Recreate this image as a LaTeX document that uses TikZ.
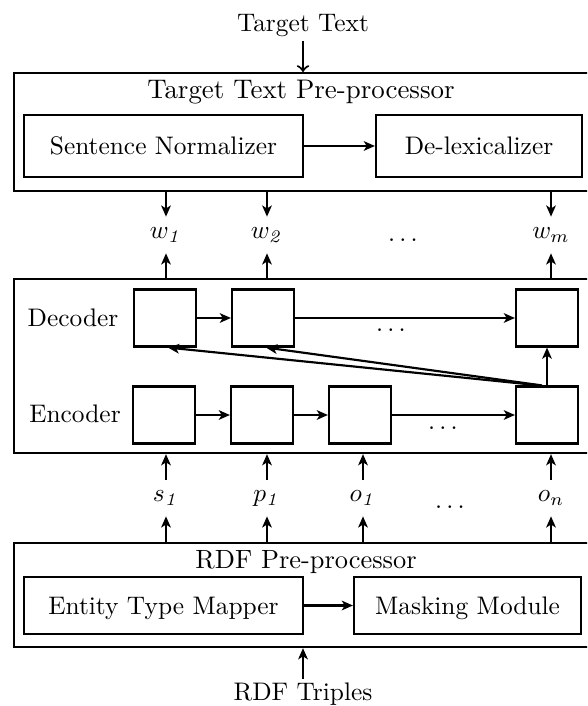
\documentclass[tikz,border=0pt]{standalone}
\usepackage{amsmath}
\usetikzlibrary{arrows.meta}
\newcommand{\pxu}{0.394pt}

\begin{document}
\begin{tikzpicture}[x=\pxu, y=-\pxu, line width=0.85pt,
  >={Stealth[length=4.4pt,width=3.8pt,inset=1.2pt]},
  outerbox/.style={draw, anchor=north west, inner sep=0pt, minimum width=600*\pxu},
  modbox/.style={draw, inner sep=0pt, text height=7pt, text depth=0pt},
  cell/.style={draw, inner sep=0pt, minimum width=62*\pxu, minimum height=57*\pxu},
  sym/.style={inner xsep=1pt, inner ysep=2.8pt, text height=5.5pt, text depth=2.5pt},
  lbl/.style={anchor=base, inner sep=1pt}]

\useasboundingbox (0,0) rectangle (587,706);
\clip (0,0) rectangle (587,706);

%% outer boxes
\node[outerbox, minimum height=118*\pxu] (ttp)  at (13,72)  {};
\node[outerbox, minimum height=174*\pxu] (mid)  at (13,278) {};
\node[outerbox, minimum height=104*\pxu] (rdfp) at (13,542) {};

%% texts
\node[lbl] (tgt)    at (303,32)  {Target Text};
\node[lbl] (ttptl)  at (301,99)  {\fontsize{10.6}{12}\selectfont Target Text Pre-processor};
\node[lbl] (dectl)  at (73,326)  {Decoder};
\node[lbl] (enctl)  at (75,422)  {Encoder};
\node[lbl] (rdfptl) at (306,568) {\fontsize{10.4}{12}\selectfont RDF Pre-processor};
\node[lbl] (trip)   at (303,700) {RDF Triples};

%% modules
\node[modbox, minimum width=279*\pxu, minimum height=62*\pxu] (sn) at (163.5,146) {Sentence Normalizer};
\node[modbox, minimum width=206*\pxu, minimum height=62*\pxu] (dl) at (479,146)   {De-lexicalizer};
\node[modbox, minimum width=279*\pxu, minimum height=57*\pxu] (et) at (163.5,605.5) {Entity Type Mapper};
\node[modbox, minimum width=227*\pxu, minimum height=57*\pxu] (mm) at (467.5,605.5) {Masking Module};

%% decoder / encoder cells
\node[cell] (d1) at (165,318) {};
\node[cell] (d2) at (263,318) {};
\node[cell] (d4) at (547,318) {};
\node[cell] (e1) at (164,415) {};
\node[cell] (e2) at (262,415) {};
\node[cell] (e3) at (360,415) {};
\node[cell] (e4) at (547,415) {};

%% symbols
\node[sym] (w1) at (166,235) {$w_{\mathit{1}}$};
\node[sym] (w2) at (267,235) {$w_{\mathit{2}}$};
\node[sym] (wm) at (551,235) {$w_{m}$};
\node[sym] (s1) at (166,498) {$s_{\mathit{1}}$};
\node[sym] (p1) at (267,498) {$p_{\mathit{1}}$};
\node[sym] (o1) at (363,498) {$o_{\mathit{1}}$};
\node[sym] (on) at (551,498) {$o_{n}$};

%% dots
\node[lbl] (wdots) at (405,241.5) {$\dots$};
\node[lbl] (ddots) at (393,331.5) {$\dots$};
\node[lbl] (edots) at (445,429.5) {$\dots$};
\node[lbl] (tdots) at (452,508.5) {$\dots$};

%% edges
\draw[-to] (tgt) -- (ttp.north -| tgt);
\draw[->] (sn) -- (dl);
\draw[->] (et) -- (mm);
\draw[->] (trip) -- (rdfp.south -| trip);

\draw[->] (ttp.south -| w1) -- (w1);
\draw[->] (ttp.south -| w2) -- (w2);
\draw[->] (ttp.south -| wm) -- (wm);
\draw[->] (mid.north -| w1) -- (w1);
\draw[->] (mid.north -| w2) -- (w2);
\draw[->] (mid.north -| wm) -- (wm);

\draw[->] (s1) -- (mid.south -| s1);
\draw[->] (p1) -- (mid.south -| p1);
\draw[->] (o1) -- (mid.south -| o1);
\draw[->] (on) -- (mid.south -| on);
\draw[->] (rdfp.north -| s1) -- (s1);
\draw[->] (rdfp.north -| p1) -- (p1);
\draw[->] (rdfp.north -| o1) -- (o1);
\draw[->] (rdfp.north -| on) -- (on);

\draw[->] (d1) -- (d2);
\draw[->] (d2) -- (d4);
\draw[->] (e1) -- (e2);
\draw[->] (e2) -- (e3);
\draw[->] (e3) -- (e4);
\draw[->] (e4) -- (d4);
\draw[->] ([xshift=-7*\pxu]e4.north) -- ([xshift=3*\pxu]d1.south);
\draw[->] ([xshift=-5*\pxu]e4.north) -- ([xshift=3*\pxu]d2.south);
\end{tikzpicture}
\end{document}
